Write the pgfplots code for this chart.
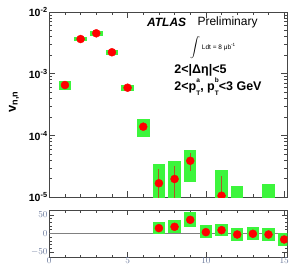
\documentclass[border=0pt]{standalone}
\usepackage{pgfplots}
\pgfplotsset{compat=1.18}
\usepackage{fontspec}
\setmainfont{Liberation Sans}
\definecolor{boxgreen}{RGB}{60,245,60}
\definecolor{errc}{RGB}{175,85,35}
\definecolor{slate}{RGB}{105,120,155}
\definecolor{axc}{RGB}{70,70,70}
\newcommand{\pTs}[1]{p\rlap{\raisebox{0.62em}{\fontsize{6.5}{6.5}\selectfont #1}}\raisebox{-0.42em}{\fontsize{6.5}{6.5}\selectfont T}}
\begin{document}
\begin{tikzpicture}
\useasboundingbox (0pt,0pt) rectangle (297pt,279pt);
% ---------------- upper panel ----------------
\begin{axis}[
  at={(49.3pt,81.7pt)}, anchor=south west, scale only axis,
  width=238pt, height=185.3pt,
  xmin=0, xmax=15.2, ymode=log, ymin=1e-5, ymax=1e-2,
  xtick={0,5,10,15}, minor x tick num=4, xticklabels={},
  ytick={1e-5,1e-4,1e-3,1e-2},
  yticklabels={\textbf{10\textsuperscript{-5}},\textbf{10\textsuperscript{-4}},\textbf{10\textsuperscript{-3}},\textbf{10\textsuperscript{-2}}},
  yticklabel style={font=\fontsize{10.5}{12}\selectfont, inner sep=1.5pt},
  tick align=inside, major tick length=6pt, minor tick length=3pt,
  axis line style={axc, line width=0.9pt}, tick style={axc, line width=0.6pt},
  clip marker paths=true,
  ylabel={\textbf{v\textsubscript{n,n}}},
  ylabel style={font=\fontsize{13}{15}\selectfont, at={(rel axis cs:-0.148,0.514)}, anchor=center},
]
% systematic boxes
\addplot[fill=boxgreen, draw=none] coordinates {(0.6,5.5e-4) (1.4,5.5e-4) (1.4,7.6e-4) (0.6,7.6e-4)} -- cycle;
\addplot[fill=boxgreen, draw=none] coordinates {(1.6,3.35e-3) (2.4,3.35e-3) (2.4,3.95e-3) (1.6,3.95e-3)} -- cycle;
\addplot[fill=boxgreen, draw=none] coordinates {(2.6,4.15e-3) (3.4,4.15e-3) (3.4,4.9e-3) (2.6,4.9e-3)} -- cycle;
\addplot[fill=boxgreen, draw=none] coordinates {(3.6,2.05e-3) (4.4,2.05e-3) (4.4,2.42e-3) (3.6,2.42e-3)} -- cycle;
\addplot[fill=boxgreen, draw=none] coordinates {(4.6,5.25e-4) (5.4,5.25e-4) (5.4,6.7e-4) (4.6,6.7e-4)} -- cycle;
\addplot[fill=boxgreen, draw=none] coordinates {(5.6,9.3e-5) (6.4,9.3e-5) (6.4,1.87e-4) (5.6,1.87e-4)} -- cycle;
\addplot[fill=boxgreen, draw=none] coordinates {(6.6,5e-6) (7.4,5e-6) (7.4,3.5e-5) (6.6,3.5e-5)} -- cycle;
\addplot[fill=boxgreen, draw=none] coordinates {(7.6,5e-6) (8.4,5e-6) (8.4,3.8e-5) (7.6,3.8e-5)} -- cycle;
\addplot[fill=boxgreen, draw=none] coordinates {(8.6,1.76e-5) (9.4,1.76e-5) (9.4,5.9e-5) (8.6,5.9e-5)} -- cycle;
\addplot[fill=boxgreen, draw=none] coordinates {(10.6,5e-6) (11.4,5e-6) (11.4,2.8e-5) (10.6,2.8e-5)} -- cycle;
\addplot[fill=boxgreen, draw=none] coordinates {(11.6,5e-6) (12.4,5e-6) (12.4,1.52e-5) (11.6,1.52e-5)} -- cycle;
\addplot[fill=boxgreen, draw=none] coordinates {(13.6,5e-6) (14.4,5e-6) (14.4,1.62e-5) (13.6,1.62e-5)} -- cycle;
% statistical error bars
\addplot[errc, line width=1pt] coordinates {(7,5e-6) (7,2.87e-5)};
\addplot[errc, line width=1pt] coordinates {(8,5e-6) (8,3.24e-5)};
\addplot[errc, line width=1pt] coordinates {(9,2.7e-5) (9,5.15e-5)};
\addplot[errc, line width=1pt] coordinates {(11,5e-6) (11,2.24e-5)};
% points
\addplot[only marks, mark=*, mark size=4pt, mark options={draw=red, fill=red}] coordinates {
 (1,6.57e-4) (2,3.65e-3) (3,4.52e-3) (4,2.23e-3) (5,5.95e-4) (6,1.39e-4)
 (7,1.69e-5) (8,1.98e-5) (9,3.9e-5) (11,1.06e-5)};
% texts
\node[anchor=west, inner sep=0pt, font=\fontsize{12}{14}\selectfont\bfseries\itshape] at (rel axis cs:0.41,0.943) {ATLAS};
\node[anchor=west, inner sep=0pt, font=\fontsize{12}{14}\selectfont] at (rel axis cs:0.622,0.943) {Preliminary};
\node[anchor=west, inner sep=0pt, font=\fontsize{6.5}{7}\selectfont] at (rel axis cs:0.591,0.806) {$\displaystyle\int$ Ldt = 8 μb\textsuperscript{-1}};
\node[anchor=west, inner sep=0pt, font=\fontsize{12.5}{14}\selectfont\bfseries] at (rel axis cs:0.525,0.687) {2<|Δη|<5};
\node[anchor=west, inner sep=0pt, font=\fontsize{12.5}{14}\selectfont\bfseries] at (rel axis cs:0.525,0.595) {2<\pTs{a}, \pTs{b}<3 GeV};
\end{axis}
% ---------------- lower panel ----------------
\begin{axis}[
  at={(49.3pt,22pt)}, anchor=south west, scale only axis,
  width=238pt, height=47pt,
  xmin=0, xmax=15.2, ymin=-63, ymax=63,
  xtick={0,5,10,15}, minor x tick num=4,
  ytick={-50,0,50}, minor y tick num=4,
  xticklabel style={font=\fontsize{9.5}{11}\selectfont\bfseries, text=slate, inner sep=0.5pt},
  yticklabel style={font=\fontsize{9.5}{11}\selectfont\bfseries, text=slate, inner sep=1.5pt},
  tick align=inside, major tick length=5pt, minor tick length=2.5pt,
  axis line style={axc, line width=0.9pt}, tick style={axc, line width=0.6pt},
  clip marker paths=true,
]
\addplot[gray, line width=1.2pt] coordinates {(0,0) (15.2,0)};
\addplot[fill=boxgreen, draw=none] coordinates {(6.6,-2.6) (7.4,-2.6) (7.4,31.4) (6.6,31.4)} -- cycle;
\addplot[fill=boxgreen, draw=none] coordinates {(7.6,1) (8.4,1) (8.4,35) (7.6,35)} -- cycle;
\addplot[fill=boxgreen, draw=none] coordinates {(8.6,16.6) (9.4,16.6) (9.4,56.6) (8.6,56.6)} -- cycle;
\addplot[fill=boxgreen, draw=none] coordinates {(9.6,-12) (10.4,-12) (10.4,22) (9.6,22)} -- cycle;
\addplot[fill=boxgreen, draw=none] coordinates {(10.6,-8) (11.4,-8) (11.4,26) (10.6,26)} -- cycle;
\addplot[fill=boxgreen, draw=none] coordinates {(11.6,-20) (12.4,-20) (12.4,15) (11.6,15)} -- cycle;
\addplot[fill=boxgreen, draw=none] coordinates {(12.6,-18) (13.4,-18) (13.4,17) (12.6,17)} -- cycle;
\addplot[fill=boxgreen, draw=none] coordinates {(13.6,-20) (14.4,-20) (14.4,15) (13.6,15)} -- cycle;
\addplot[fill=boxgreen, draw=none] coordinates {(14.6,-34.5) (15.4,-34.5) (15.4,2.5) (14.6,2.5)} -- cycle;
\addplot[only marks, mark=*, mark size=4pt, mark options={draw=red, fill=red}] coordinates {
 (7,14.4) (8,18) (9,36.6) (10,3.7) (11,9) (12,-2.7) (13,-0.8) (14,-2.7) (15,-16)};
\node[anchor=south west, inner sep=0pt, font=\fontsize{7}{8}\selectfont, text=slate] at (rel axis cs:-0.005,1.03) {×10\textsuperscript{-6}};
\node[inner sep=0pt, font=\fontsize{11}{12}\selectfont\bfseries] at (rel axis cs:0.503,-0.21) {n};
\end{axis}
\end{tikzpicture}
\end{document}
